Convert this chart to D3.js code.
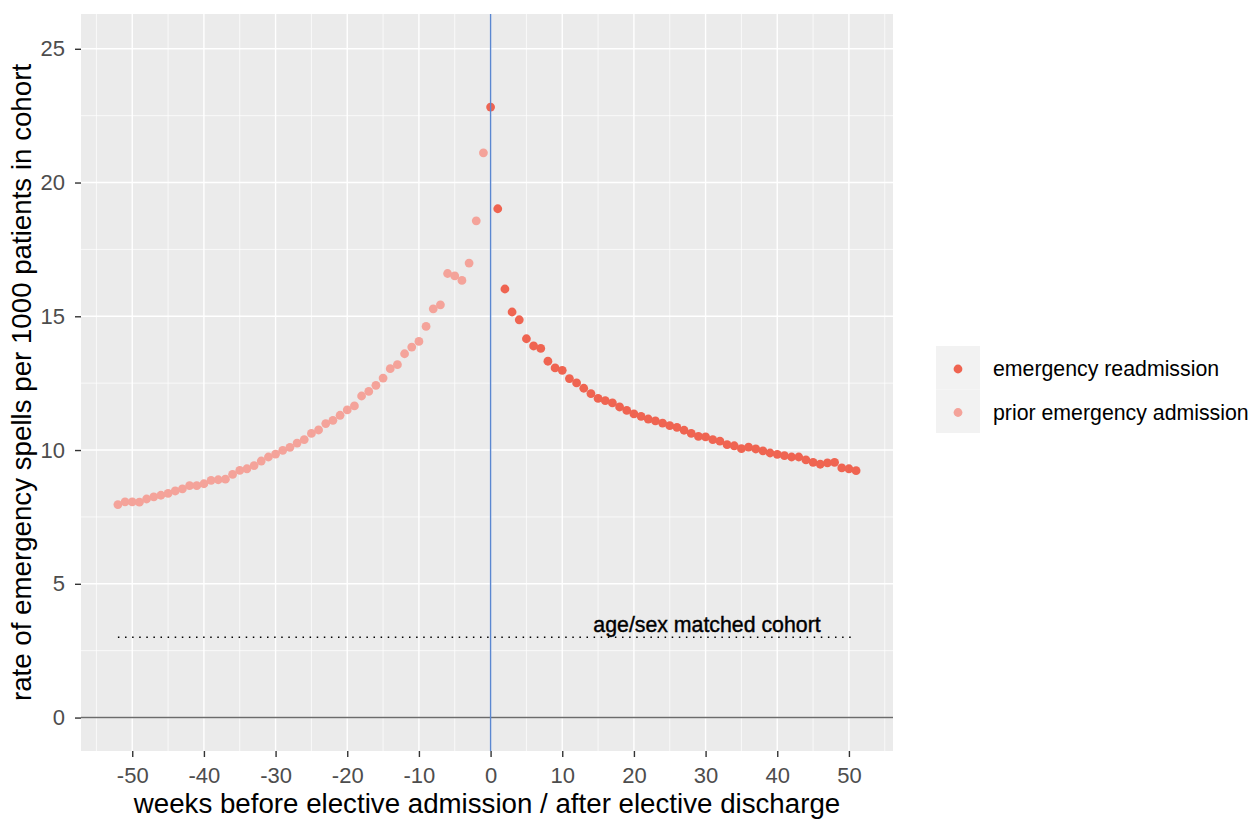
<!DOCTYPE html>
<html>
<head>
<meta charset="utf-8">
<script src="https://cdn.jsdelivr.net/npm/d3@7"></script>
<style>
  body { margin: 0; background: #fff; }
  text { font-family: Arial, 'Liberation Sans', sans-serif; }
</style>
</head>
<body>
<div id="chartArea"></div>
<script>
// weeks before elective admission (negative) and after discharge (0 and up)
const priorWeeks = d3.range(-52, 0)
const priorRate = [
  7.96, 8.06, 8.06, 8.05, 8.17, 8.25, 8.31, 8.38, 8.47, 8.55,
  8.67, 8.67, 8.74, 8.87, 8.89, 8.91, 9.09, 9.24, 9.30, 9.42,
  9.59, 9.74, 9.85, 9.99, 10.10, 10.26, 10.39, 10.62, 10.75, 10.99,
  11.11, 11.30, 11.50, 11.65, 12.02, 12.19, 12.42, 12.69, 13.04, 13.19,
  13.60, 13.85, 14.06, 14.62, 15.28, 15.43, 16.60, 16.51, 16.34, 16.99,
  18.57, 21.11
]
const readmitWeeks = d3.range(0, 52)
const readmitRate = [
  22.82, 19.02, 16.02, 15.16, 14.87, 14.16, 13.89, 13.80, 13.32, 13.07,
  12.98, 12.67, 12.51, 12.31, 12.11, 11.93, 11.85, 11.76, 11.61, 11.48,
  11.35, 11.26, 11.16, 11.09, 11.01, 10.91, 10.85, 10.74, 10.62, 10.51,
  10.49, 10.39, 10.33, 10.20, 10.16, 10.05, 10.11, 10.04, 9.97, 9.89,
  9.84, 9.79, 9.74, 9.74, 9.63, 9.54, 9.47, 9.52, 9.54, 9.33,
  9.30, 9.23
]
const cohortRate = 3
const cohortLabel = 'age/sex matched cohort'
const cohortLabelWeek = 30.2
const seriesNames = ['emergency readmission', 'prior emergency admission']
const seriesColors = ['#EF6451', '#F4A39A']
const xTicks = [-50, -40, -30, -20, -10, 0, 10, 20, 30, 40, 50]
const yTicks = [0, 5, 10, 15, 20, 25]

const width = 1255
const height = 819
const panel = { left: 81, right: 893, top: 14, bottom: 751 }
const tickFont = 22
const legendFont = 21.3
const titleFont = 27.7

// data rows, prior first so readmission is drawn on top
const data = priorWeeks.map((w, i) => ({ week: w, rate: priorRate[i], series: seriesNames[1] }))
  .concat(readmitWeeks.map((w, i) => ({ week: w, rate: readmitRate[i], series: seriesNames[0] })))

const allWeeks = data.map(d => d.week)
const xMin = d3.min(allWeeks)
const xMax = d3.max(allWeeks)
const xPad = (xMax - xMin) * 0.05

const xScale = d3
  .scaleLinear()
  .domain([xMin - xPad, xMax + xPad])
  .range([panel.left, panel.right])

const yScale = d3
  .scaleLinear()
  .domain([-1.25, 26.3])
  .range([panel.bottom, panel.top])

const colorScale = d3.scaleOrdinal().domain(seriesNames).range(seriesColors)

const svg = d3
  .select('#chartArea')
  .append('svg')
  .attr('width', width)
  .attr('height', height)

// panel background
svg
  .append('rect')
  .attr('x', panel.left)
  .attr('y', panel.top)
  .attr('width', panel.right - panel.left)
  .attr('height', panel.bottom - panel.top)
  .attr('fill', '#EBEBEB')

// minor grid
const xMinor = d3.range(-55, 60, 10)
const yMinor = d3.range(2.5, 26, 5)
svg
  .append('g')
  .selectAll('line')
  .data(xMinor)
  .join('line')
  .attr('x1', d => xScale(d))
  .attr('x2', d => xScale(d))
  .attr('y1', panel.top)
  .attr('y2', panel.bottom)
  .attr('stroke', '#fff')
  .attr('stroke-width', 0.7)
svg
  .append('g')
  .selectAll('line')
  .data(yMinor)
  .join('line')
  .attr('x1', panel.left)
  .attr('x2', panel.right)
  .attr('y1', d => yScale(d))
  .attr('y2', d => yScale(d))
  .attr('stroke', '#fff')
  .attr('stroke-width', 0.7)

// major grid
svg
  .append('g')
  .selectAll('line')
  .data(xTicks)
  .join('line')
  .attr('x1', d => xScale(d))
  .attr('x2', d => xScale(d))
  .attr('y1', panel.top)
  .attr('y2', panel.bottom)
  .attr('stroke', '#fff')
  .attr('stroke-width', 1.4)
svg
  .append('g')
  .selectAll('line')
  .data(yTicks)
  .join('line')
  .attr('x1', panel.left)
  .attr('x2', panel.right)
  .attr('y1', d => yScale(d))
  .attr('y2', d => yScale(d))
  .attr('stroke', '#fff')
  .attr('stroke-width', 1.4)

// zero line
svg
  .append('line')
  .attr('x1', panel.left)
  .attr('x2', panel.right)
  .attr('y1', yScale(0))
  .attr('y2', yScale(0))
  .attr('stroke', '#6B6B6B')
  .attr('stroke-width', 1.6)

// matched cohort reference
svg
  .append('line')
  .attr('x1', xScale(xMin))
  .attr('x2', xScale(xMax))
  .attr('y1', yScale(cohortRate))
  .attr('y2', yScale(cohortRate))
  .attr('stroke', '#000')
  .attr('stroke-width', 1.5)
  .attr('stroke-dasharray', '1.5,5.6')

svg
  .append('text')
  .attr('x', xScale(cohortLabelWeek))
  .attr('y', yScale(cohortRate) - 5.5)
  .attr('text-anchor', 'middle')
  .attr('font-size', legendFont)
  .attr('fill', '#000')
  .attr('stroke', '#000')
  .attr('stroke-width', 0.4)
  .text(cohortLabel)

// points
svg
  .append('g')
  .selectAll('circle')
  .data(data)
  .join('circle')
  .attr('cx', d => xScale(d.week))
  .attr('cy', d => yScale(d.rate))
  .attr('r', 4.4)
  .attr('fill', d => colorScale(d.series))

// event line at week 0
svg
  .append('line')
  .attr('x1', xScale(0))
  .attr('x2', xScale(0))
  .attr('y1', panel.top)
  .attr('y2', panel.bottom)
  .attr('stroke', '#5B87D0')
  .attr('stroke-width', 1.4)

// x axis
const xAxis = svg
  .append('g')
  .attr('transform', `translate(0,${panel.bottom})`)
  .call(d3.axisBottom(xScale).tickValues(xTicks).tickSize(6).tickPadding(10).tickFormat(d3.format('d')))
xAxis.select('.domain').remove()
xAxis.selectAll('line').attr('stroke', '#333').attr('stroke-width', 1.4)
xAxis
  .selectAll('text')
  .attr('font-size', tickFont)
  .attr('fill', '#4D4D4D')
  .attr('font-family', 'Arial, Liberation Sans, sans-serif')
  .text(d => (d < 0 ? '-' + Math.abs(d) : d))

// y axis
const yAxis = svg
  .append('g')
  .attr('transform', `translate(${panel.left},0)`)
  .call(d3.axisLeft(yScale).tickValues(yTicks).tickSize(6).tickPadding(10))
yAxis.select('.domain').remove()
yAxis.selectAll('line').attr('stroke', '#333').attr('stroke-width', 1.4)
yAxis
  .selectAll('text')
  .attr('font-size', tickFont)
  .attr('fill', '#4D4D4D')
  .attr('font-family', 'Arial, Liberation Sans, sans-serif')

// axis titles
svg
  .append('text')
  .attr('x', (panel.left + panel.right) / 2)
  .attr('y', 813)
  .attr('text-anchor', 'middle')
  .attr('font-size', titleFont)
  .attr('fill', '#000')
  .text('weeks before elective admission / after elective discharge')

svg
  .append('text')
  .attr('transform', `translate(31,${(panel.top + panel.bottom) / 2}) rotate(-90)`)
  .attr('text-anchor', 'middle')
  .attr('font-size', titleFont)
  .attr('fill', '#000')
  .text('rate of emergency spells per 1000 patients in cohort')

// legend
const legend = svg.append('g').attr('transform', 'translate(936,346)')
legend
  .selectAll('rect')
  .data(seriesNames)
  .join('rect')
  .attr('x', 0)
  .attr('y', (d, i) => i * 43.5)
  .attr('width', 44)
  .attr('height', 43.5)
  .attr('fill', '#F2F2F2')
legend
  .selectAll('circle')
  .data(seriesNames)
  .join('circle')
  .attr('cx', 22)
  .attr('cy', (d, i) => 23 + i * 43.5)
  .attr('r', 4.4)
  .attr('fill', d => colorScale(d))
legend
  .selectAll('text')
  .data(seriesNames)
  .join('text')
  .attr('x', 57)
  .attr('y', (d, i) => 23 + i * 43.5)
  .attr('dy', '0.35em')
  .attr('font-size', legendFont)
  .attr('fill', '#000')
  .text(d => d)
</script>
</body>
</html>
